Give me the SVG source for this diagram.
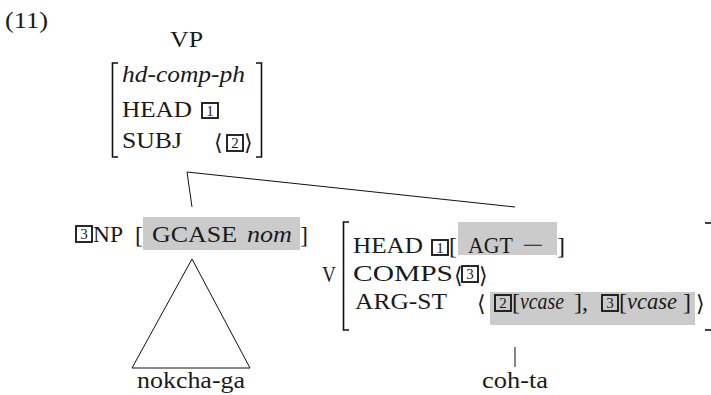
<svg xmlns="http://www.w3.org/2000/svg" width="711" height="395" viewBox="0 0 711 395">
<style>
text{font-family:"Liberation Serif","DejaVu Serif",serif;font-size:24px;fill:#1a1a1a}
.it{font-style:italic}
.num{font-size:15px;text-anchor:middle}
.ab{font-family:"DejaVu Serif","Liberation Serif",serif;font-size:22px}
.box{fill:none;stroke:#111;stroke-width:1.8}
.brk{fill:none;stroke:#111;stroke-width:1.6}
.gray{fill:#cbcbcb}
.edge{stroke:#111;stroke-width:1;fill:none}
</style>
<rect width="711" height="395" fill="#fff"/>
<text x="5" y="28" textLength="43" lengthAdjust="spacingAndGlyphs">(11)</text>

<g id="vp">
  <text x="170" y="47" textLength="33" lengthAdjust="spacingAndGlyphs">VP</text>
  <path class="brk" d="M118,63 H112.5 V157 H118"/>
  <path class="brk" d="M256,63 H261.5 V157 H256"/>
  <text class="it" x="122" y="82" textLength="123" lengthAdjust="spacingAndGlyphs">hd-comp-ph</text>
  <text x="122" y="117" textLength="70" lengthAdjust="spacingAndGlyphs">HEAD</text>
  <rect class="box" x="202" y="103" width="16" height="15"/>
  <text class="num" x="210" y="116">1</text>
  <text x="122" y="148" textLength="60" lengthAdjust="spacingAndGlyphs">SUBJ</text>
  <text class="ab" x="214" y="150">⟨</text>
  <rect class="box" x="227" y="135" width="16" height="16"/>
  <text class="num" x="235" y="148">2</text>
  <text class="ab" x="244" y="150">⟩</text>
</g>

<g id="connectors">
  <path class="edge" d="M187,172 L192,207"/>
  <path class="edge" d="M187,172 L515,207"/>
  <path class="edge" d="M192,259 L132,368 L250,368 Z"/>
  <path class="edge" d="M515,347 V367"/>
</g>

<g id="np">
  <rect class="box" x="76" y="226" width="16" height="16"/>
  <text class="num" x="84" y="239">3</text>
  <text x="93" y="242" textLength="30" lengthAdjust="spacingAndGlyphs">NP</text>
  <text x="135" y="243">[</text>
  <rect class="gray" x="143" y="217" width="157" height="33"/>
  <text x="152" y="242" textLength="85" lengthAdjust="spacingAndGlyphs">GCASE</text>
  <text class="it" x="247" y="242" textLength="45" lengthAdjust="spacingAndGlyphs">nom</text>
  <text x="300" y="243">]</text>
</g>

<g id="nokcha">
  <text x="137" y="388" textLength="108" lengthAdjust="spacingAndGlyphs">nokcha-ga</text>
</g>

<g id="v">
  <text x="322" y="282" textLength="14" lengthAdjust="spacingAndGlyphs">V</text>
  <path class="brk" d="M349,222 H343.5 V330 H349"/>
  <path class="brk" d="M705,223 H712"/>
  <path class="brk" d="M705,330 H712"/>
  <text x="353" y="253" textLength="70" lengthAdjust="spacingAndGlyphs">HEAD</text>
  <rect class="box" x="432" y="240" width="16" height="15"/>
  <text class="num" x="440" y="253">1</text>
  <text x="449" y="254">[</text>
  <rect class="gray" x="458" y="222" width="99" height="33"/>
  <text x="468" y="253" textLength="45" lengthAdjust="spacingAndGlyphs">AGT</text>
  <text x="522" y="253" textLength="22" lengthAdjust="spacingAndGlyphs">−</text>
  <text x="557" y="254">]</text>
  <text x="353" y="281" textLength="100" lengthAdjust="spacingAndGlyphs">COMPS</text>
  <text class="ab" x="454" y="283">⟨</text>
  <rect class="box" x="462" y="266" width="16" height="16"/>
  <text class="num" x="470" y="279">3</text>
  <text class="ab" x="479" y="283">⟩</text>
  <text x="355" y="309" textLength="92" lengthAdjust="spacingAndGlyphs">ARG-ST</text>
  <text class="ab" x="477" y="311">⟨</text>
  <rect class="gray" x="490" y="292" width="205" height="33"/>
  <rect class="box" x="495" y="295" width="16" height="16"/>
  <text class="num" x="503" y="308">2</text>
  <text x="512" y="310">[</text>
  <text class="it" x="520" y="309" font-size="21" textLength="44" lengthAdjust="spacingAndGlyphs">vcase</text>
  <text x="574" y="310">],</text>
  <rect class="box" x="602" y="295" width="16" height="16"/>
  <text class="num" x="610" y="308">3</text>
  <text x="619" y="310">[</text>
  <text class="it" x="627" y="309" font-size="22" textLength="50" lengthAdjust="spacingAndGlyphs">vcase</text>
  <text x="683" y="310">]</text>
  <text class="ab" x="696" y="311">⟩</text>
</g>

<g id="cohta">
  <text x="482" y="388" textLength="66" lengthAdjust="spacingAndGlyphs">coh-ta</text>
</g>
</svg>
